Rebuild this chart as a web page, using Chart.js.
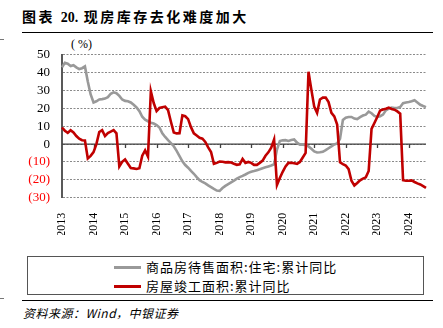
<!DOCTYPE html>
<html>
<head>
<meta charset="utf-8">
<script src="https://cdn.jsdelivr.net/npm/chart.js@4.4.0/dist/chart.umd.min.js"></script>
<style>
  body { margin: 0; width: 443px; height: 328px; background: #fff; position: relative; overflow: hidden; }
  .title { position: absolute; left: 22px; top: 6px; font: bold 14px "Noto Sans CJK SC", sans-serif; letter-spacing: 2.5px; color: #000; white-space: nowrap; }
  .title .num { font-family: "Liberation Serif", serif; letter-spacing: 0; }
  .rule { position: absolute; left: 22px; width: 411px; height: 1px; background: #000; }
  .stub { position: absolute; left: 0; width: 4px; height: 1px; background: #777; }
  #chart-box { position: absolute; left: 0; top: 35px; width: 443px; height: 200px; }
  .unit { position: absolute; left: 71px; top: 37px; font: 12px "Liberation Serif", serif; color: #000; }
  .legend { position: absolute; left: 27px; top: 256px; width: 395px; height: 37px; border: 1px solid #555; }
  .legend-item { position: absolute; left: 86px; font: 13px "Noto Sans CJK SC", sans-serif; letter-spacing: 1px; color: #000; white-space: nowrap; line-height: 16px; }
  .legend-item .swatch { display: inline-block; width: 27px; height: 3px; vertical-align: middle; margin-right: 5px; position: relative; top: -1px; }
  .source { position: absolute; left: 23px; top: 304px; font: italic 12px "Noto Sans CJK SC", sans-serif; letter-spacing: 0.5px; color: #000; white-space: nowrap; }
</style>
</head>
<body>
<div class="title">图表 <span class="num">20.</span> 现房库存去化难度加大</div>
<div class="rule" style="top:32px"></div>
<div class="stub" style="top:39px"></div>
<div class="unit">( %)</div>
<div id="chart-box"><canvas id="trend-chart"></canvas></div>
<div class="legend">
  <div class="legend-item" style="top:2px"><span class="swatch" style="background:#999999"></span>商品房待售面积:住宅:累计同比</div>
  <div class="legend-item" style="top:21px"><span class="swatch" style="background:#c00000"></span>房屋竣工面积:累计同比</div>
</div>
<div class="rule" style="top:300px"></div>
<div class="stub" style="top:298px"></div>
<div class="source">资料来源：Wind，中银证券</div>

<script>
// monthly points, Jan merged into Feb (no Jan), from 2013-04 to 2024-10
const startYear = 2013;
const startMonth = 4;
const endYear = 2024;
const endMonth = 10;

const months = [];
for (let y = startYear; y <= endYear; y++) {
  for (let m = 2; m <= 12; m++) {
    if (y === startYear && m < startMonth) continue;
    if (y === endYear && m > endMonth) continue;
    months.push(`${y}-${String(m).padStart(2, "0")}`);
  }
}

// 商品房待售面积:住宅:累计同比 (%)
const unsoldArea = [
  43.0, 45.5, 45.0, 43.7, 44.2, 43.0, 42.0, 42.5, 43.5, 35.0,
  27.8, 23.3, 24.0, 25.0, 25.2, 25.5, 26.3, 28.2, 29.0, 28.5,
  27.0, 25.0, 24.2, 24.0, 23.3, 22.0, 20.5, 18.5, 15.3, 13.7,
  12.8, 12.0, 11.5, 10.7, 9.3, 6.0, 4.0, 2.2, 0.6, -1.2,
  -3.8, -6.7, -9.6, -11.7, -13.2, -15.0, -16.6, -18.5, -20.2, -21.2,
  -22.0, -23.1, -24.1, -25.1, -26.0, -26.2, -24.6, -23.4, -22.4, -21.4,
  -20.4, -19.3, -18.5, -17.8, -17.0, -16.1, -15.5, -15.1, -14.6, -14.1,
  -13.5, -13.0, -12.5, -12.0, -11.3, -3.0, 1.7, 2.1, 2.2, 1.8,
  2.3, 2.6, 0.8, -0.3, -0.4, -0.5, -1.3, -2.6, -4.1, -4.7,
  -4.6, -4.3, -3.4, -2.3, -1.3, -0.2, 0.4, 3.0, 13.5, 14.8,
  15.2, 15.2, 14.3, 14.0, 15.1, 16.0, 16.5, 18.2, 17.3, 15.8,
  15.2, 15.6, 16.5, 18.9, 19.9, 20.5, 20.2, 20.2, 20.8, 22.9,
  23.3, 23.6, 24.0, 24.6, 23.3, 22.0, 21.3, 20.7,
];

// 房屋竣工面积:累计同比 (%)
const completedArea = [
  9.3, 7.5, 6.3, 7.8, 6.5, 4.5, 3.0, 2.2, 2.0, -8.0,
  -6.6, -4.5, 0.0, 6.8, 7.8, 4.5, 6.2, 7.0, 7.8, 6.0,
  -12.5, -9.9, -8.6, -11.0, -13.4, -13.6, -13.9, -13.5, -6.5, -3.5,
  -7.0, 29.6, 23.0, 18.5, 20.2, 20.6, 21.0, 19.0, 12.5, 6.5,
  6.0, 6.1, 16.1, 15.6, 14.0, 9.5, 6.0, 4.8, 3.5, 3.0,
  1.2, -1.8, -4.4, -11.0, -10.5, -9.8, -9.9, -10.2, -10.1, -10.3,
  -11.0, -11.6, -11.3, -8.3, -10.5, -10.0, -10.5, -11.6, -11.6, -10.5,
  -9.2, -6.5, -4.6, -2.0, 2.6, -22.9, -19.0, -15.5, -12.5, -10.5,
  -10.4, -10.7, -11.0, -10.0, -7.5, -4.9, 40.5, 30.5, 21.0, 17.5,
  25.0, 26.0, 26.0, 23.5, 17.5, 15.5, 11.0, -10.2, -11.2, -12.0,
  -14.0, -20.5, -23.2, -21.8, -20.3, -19.3, -18.6, -15.0, 8.5, 11.8,
  15.2, 18.8, 19.4, 19.8, 20.4, 19.7, 19.3, 18.3, 17.0, -20.2,
  -20.5, -20.5, -20.3, -21.2, -22.0, -22.6, -23.5, -24.5,
];

const yearEvery = 11; // one year label every 11 points

const zeroLine = {
  id: "zeroLine",
  beforeDatasetsDraw(chart) {
    const { ctx, chartArea, scales } = chart;
    const y0 = scales.y.getPixelForValue(0);
    ctx.save();
    ctx.strokeStyle = "#404040";
    ctx.lineWidth = 1.3;
    ctx.beginPath();
    ctx.moveTo(chartArea.left, y0);
    ctx.lineTo(chartArea.right, y0);
    for (let i = yearEvery; i < months.length; i += yearEvery) {
      const x = Math.round(scales.x.getPixelForValue(i)) + 0.5;
      ctx.moveTo(x, y0);
      ctx.lineTo(x, y0 + 4);
    }
    ctx.stroke();
    ctx.restore();
  },
};

new Chart(document.getElementById("trend-chart"), {
  type: "line",
  data: {
    labels: months,
    datasets: [
      {
        label: "房屋竣工面积:累计同比",
        data: completedArea,
        borderColor: "#c00000",
        borderWidth: 2.6,
        pointRadius: 0,
        tension: 0,
        order: 0,
      },
      {
        label: "商品房待售面积:住宅:累计同比",
        data: unsoldArea,
        borderColor: "#999999",
        borderWidth: 2.6,
        pointRadius: 0,
        tension: 0,
        order: 1,
      },
    ],
  },
  options: {
    responsive: true,
    maintainAspectRatio: false,
    animation: false,
    layout: { padding: { left: 0, right: 17, top: 14, bottom: 0 } },
    plugins: {
      legend: { display: false },
      tooltip: { enabled: false },
    },
    scales: {
      x: {
        grid: { display: false },
        border: { display: false },
        ticks: {
          autoSkip: false,
          minRotation: 90,
          maxRotation: 90,
          padding: 7,
          color: "#000",
          font: { family: "Liberation Serif", size: 12 },
          callback: (value, index) => (index % yearEvery === 0 ? months[index].slice(0, 4) : null),
        },
        afterFit: (scale) => {
          scale.height = 37.3;
        },
      },
      y: {
        min: -30,
        max: 50,
        ticks: {
          stepSize: 10,
          autoSkip: false,
          padding: 12,
          color: (ctx) => (ctx.tick.value < 0 ? "#ff0000" : "#000000"),
          font: { family: "Liberation Serif", size: 13 },
          callback: (value) => (value < 0 ? `(${-value})` : `${value}`),
        },
        grid: { color: "#8a8a8a", lineWidth: 1, drawTicks: false },
        border: { display: true, color: "#595959", width: 2, dash: [2, 1.5] },
        afterFit: (scale) => {
          scale.width = 62;
        },
      },
    },
  },
  plugins: [zeroLine],
});
</script>
</body>
</html>
